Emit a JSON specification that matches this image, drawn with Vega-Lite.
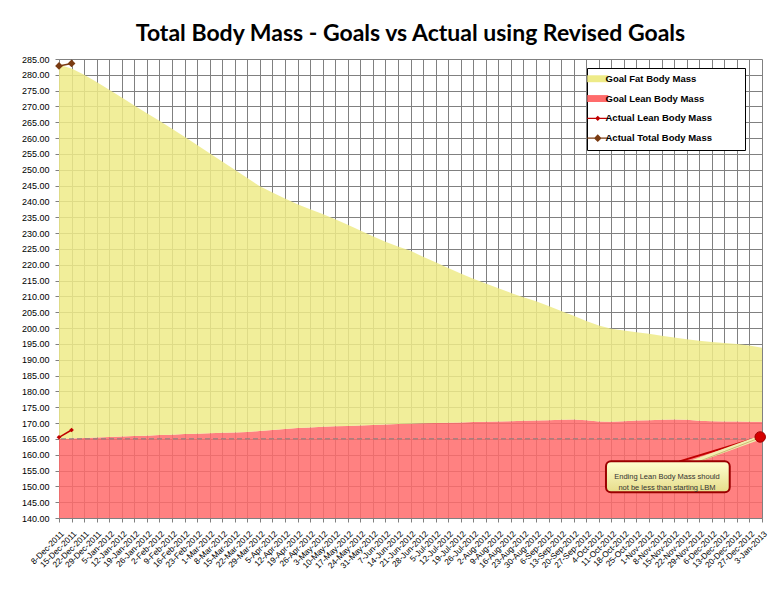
{
  "$schema": "https://vega.github.io/schema/vega-lite/v6.json",
  "width": 703,
  "height": 459,
  "autosize": "none",
  "padding": {"left": 59, "top": 59, "right": 18, "bottom": 78},
  "background": "white",
  "title": {
    "text": "Total Body Mass - Goals vs Actual using Revised Goals",
    "font": "Lato",
    "fontSize": 23,
    "fontWeight": "bold",
    "color": "black",
    "anchor": "middle",
    "offset": 9
  },
  "config": {
    "view": {"stroke": null},
    "axis": {
      "labelFont": "Liberation Sans",
      "labelFontSize": 9,
      "labelColor": "black",
      "gridColor": "#808080",
      "gridOpacity": 1,
      "gridWidth": 1,
      "domainColor": "#808080",
      "tickColor": "#808080",
      "tickSize": 4,
      "title": null
    },
    "legend": {
      "title": null,
      "orient": "none",
      "legendX": 528,
      "legendY": 9,
      "fillColor": "white",
      "strokeColor": "black",
      "padding": 6,
      "symbolSize": 441,
      "labelOffset": 3,
      "rowPadding": 8.8,
      "labelFont": "Liberation Sans",
      "labelFontSize": 9.5,
      "labelFontWeight": "bold",
      "labelColor": "black"
    }
  },
  "datasets": {
    "goals": [
      {"date": "2011-12-08", "total": 283.2, "lean": 165.0},
      {"date": "2011-12-15", "total": 282.0, "lean": 165.15},
      {"date": "2011-12-22", "total": 280.0, "lean": 165.3},
      {"date": "2011-12-29", "total": 277.7, "lean": 165.45},
      {"date": "2012-01-05", "total": 275.3, "lean": 165.6},
      {"date": "2012-01-12", "total": 272.8, "lean": 165.75},
      {"date": "2012-01-19", "total": 270.3, "lean": 165.9},
      {"date": "2012-01-26", "total": 267.9, "lean": 166.0},
      {"date": "2012-02-02", "total": 265.5, "lean": 166.2},
      {"date": "2012-02-09", "total": 263.0, "lean": 166.3},
      {"date": "2012-02-16", "total": 260.4, "lean": 166.5},
      {"date": "2012-02-23", "total": 257.8, "lean": 166.6},
      {"date": "2012-03-01", "total": 255.2, "lean": 166.8},
      {"date": "2012-03-08", "total": 252.6, "lean": 166.9},
      {"date": "2012-03-15", "total": 250.0, "lean": 167.0},
      {"date": "2012-03-22", "total": 247.4, "lean": 167.2},
      {"date": "2012-03-29", "total": 244.8, "lean": 167.5},
      {"date": "2012-04-05", "total": 242.8, "lean": 167.8},
      {"date": "2012-04-12", "total": 240.9, "lean": 168.1},
      {"date": "2012-04-19", "total": 239.1, "lean": 168.4},
      {"date": "2012-04-26", "total": 237.5, "lean": 168.6},
      {"date": "2012-05-03", "total": 236.0, "lean": 168.8},
      {"date": "2012-05-10", "total": 234.4, "lean": 168.95},
      {"date": "2012-05-17", "total": 232.6, "lean": 169.1},
      {"date": "2012-05-24", "total": 230.8, "lean": 169.25},
      {"date": "2012-05-31", "total": 229.0, "lean": 169.4},
      {"date": "2012-06-07", "total": 227.3, "lean": 169.55},
      {"date": "2012-06-14", "total": 225.8, "lean": 169.7},
      {"date": "2012-06-21", "total": 224.4, "lean": 169.8},
      {"date": "2012-06-28", "total": 222.5, "lean": 169.9},
      {"date": "2012-07-05", "total": 220.8, "lean": 170.0},
      {"date": "2012-07-12", "total": 219.0, "lean": 170.1},
      {"date": "2012-07-19", "total": 217.2, "lean": 170.2},
      {"date": "2012-07-26", "total": 215.6, "lean": 170.3},
      {"date": "2012-08-02", "total": 214.1, "lean": 170.4},
      {"date": "2012-08-09", "total": 212.6, "lean": 170.5},
      {"date": "2012-08-16", "total": 211.1, "lean": 170.6},
      {"date": "2012-08-23", "total": 209.7, "lean": 170.7},
      {"date": "2012-08-30", "total": 208.5, "lean": 170.8},
      {"date": "2012-09-06", "total": 207.0, "lean": 170.9},
      {"date": "2012-09-13", "total": 205.4, "lean": 171.0},
      {"date": "2012-09-20", "total": 203.9, "lean": 171.1},
      {"date": "2012-09-27", "total": 202.2, "lean": 170.9},
      {"date": "2012-10-04", "total": 200.8, "lean": 170.5},
      {"date": "2012-10-11", "total": 199.8, "lean": 170.4},
      {"date": "2012-10-18", "total": 199.2, "lean": 170.6},
      {"date": "2012-10-25", "total": 198.7, "lean": 170.8},
      {"date": "2012-11-01", "total": 198.2, "lean": 170.9},
      {"date": "2012-11-08", "total": 197.6, "lean": 171.0},
      {"date": "2012-11-15", "total": 197.0, "lean": 171.1},
      {"date": "2012-11-22", "total": 196.5, "lean": 171.0},
      {"date": "2012-11-29", "total": 196.0, "lean": 170.7},
      {"date": "2012-12-06", "total": 195.6, "lean": 170.6},
      {"date": "2012-12-13", "total": 195.3, "lean": 170.5},
      {"date": "2012-12-20", "total": 195.0, "lean": 170.5},
      {"date": "2012-12-27", "total": 194.5, "lean": 170.4},
      {"date": "2013-01-03", "total": 193.8, "lean": 170.4}
    ],
    "actual": [
      {"date": "2011-12-08", "series": "Actual Lean Body Mass", "value": 165.5},
      {"date": "2011-12-15", "series": "Actual Lean Body Mass", "value": 167.8},
      {"date": "2011-12-08", "series": "Actual Total Body Mass", "value": 282.8},
      {"date": "2011-12-15", "series": "Actual Total Body Mass", "value": 283.6}
    ],
    "ending": [
      {"date": "2013-01-02", "value": 165.6}
    ]
  },
  "layer": [
    {
      "data": {"name": "goals"},
      "mark": {"type": "area", "opacity": 0.85},
      "encoding": {
        "x": {
          "field": "date",
          "type": "temporal",
          "scale": {
            "type": "utc",
            "domain": [
              {"year": 2011, "month": 12, "date": 8, "utc": true},
              {"year": 2013, "month": 1, "date": 3, "utc": true}
            ]
          },
          "axis": {
            "format": "%-d-%b-%Y",
            "labelAngle": -45,
            "labelFontSize": 8.3,
            "labelOverlap": false,
            "labelPadding": 7,
            "grid": true,
            "tickCount": 200,
            "values": [
              {"year": 2011, "month": 12, "date": 8, "utc": true},
              {"year": 2011, "month": 12, "date": 15, "utc": true},
              {"year": 2011, "month": 12, "date": 22, "utc": true},
              {"year": 2011, "month": 12, "date": 29, "utc": true},
              {"year": 2012, "month": 1, "date": 5, "utc": true},
              {"year": 2012, "month": 1, "date": 12, "utc": true},
              {"year": 2012, "month": 1, "date": 19, "utc": true},
              {"year": 2012, "month": 1, "date": 26, "utc": true},
              {"year": 2012, "month": 2, "date": 2, "utc": true},
              {"year": 2012, "month": 2, "date": 9, "utc": true},
              {"year": 2012, "month": 2, "date": 16, "utc": true},
              {"year": 2012, "month": 2, "date": 23, "utc": true},
              {"year": 2012, "month": 3, "date": 1, "utc": true},
              {"year": 2012, "month": 3, "date": 8, "utc": true},
              {"year": 2012, "month": 3, "date": 15, "utc": true},
              {"year": 2012, "month": 3, "date": 22, "utc": true},
              {"year": 2012, "month": 3, "date": 29, "utc": true},
              {"year": 2012, "month": 4, "date": 5, "utc": true},
              {"year": 2012, "month": 4, "date": 12, "utc": true},
              {"year": 2012, "month": 4, "date": 19, "utc": true},
              {"year": 2012, "month": 4, "date": 26, "utc": true},
              {"year": 2012, "month": 5, "date": 3, "utc": true},
              {"year": 2012, "month": 5, "date": 10, "utc": true},
              {"year": 2012, "month": 5, "date": 17, "utc": true},
              {"year": 2012, "month": 5, "date": 24, "utc": true},
              {"year": 2012, "month": 5, "date": 31, "utc": true},
              {"year": 2012, "month": 6, "date": 7, "utc": true},
              {"year": 2012, "month": 6, "date": 14, "utc": true},
              {"year": 2012, "month": 6, "date": 21, "utc": true},
              {"year": 2012, "month": 6, "date": 28, "utc": true},
              {"year": 2012, "month": 7, "date": 5, "utc": true},
              {"year": 2012, "month": 7, "date": 12, "utc": true},
              {"year": 2012, "month": 7, "date": 19, "utc": true},
              {"year": 2012, "month": 7, "date": 26, "utc": true},
              {"year": 2012, "month": 8, "date": 2, "utc": true},
              {"year": 2012, "month": 8, "date": 9, "utc": true},
              {"year": 2012, "month": 8, "date": 16, "utc": true},
              {"year": 2012, "month": 8, "date": 23, "utc": true},
              {"year": 2012, "month": 8, "date": 30, "utc": true},
              {"year": 2012, "month": 9, "date": 6, "utc": true},
              {"year": 2012, "month": 9, "date": 13, "utc": true},
              {"year": 2012, "month": 9, "date": 20, "utc": true},
              {"year": 2012, "month": 9, "date": 27, "utc": true},
              {"year": 2012, "month": 10, "date": 4, "utc": true},
              {"year": 2012, "month": 10, "date": 11, "utc": true},
              {"year": 2012, "month": 10, "date": 18, "utc": true},
              {"year": 2012, "month": 10, "date": 25, "utc": true},
              {"year": 2012, "month": 11, "date": 1, "utc": true},
              {"year": 2012, "month": 11, "date": 8, "utc": true},
              {"year": 2012, "month": 11, "date": 15, "utc": true},
              {"year": 2012, "month": 11, "date": 22, "utc": true},
              {"year": 2012, "month": 11, "date": 29, "utc": true},
              {"year": 2012, "month": 12, "date": 6, "utc": true},
              {"year": 2012, "month": 12, "date": 13, "utc": true},
              {"year": 2012, "month": 12, "date": 20, "utc": true},
              {"year": 2012, "month": 12, "date": 27, "utc": true},
              {"year": 2013, "month": 1, "date": 3, "utc": true}
            ]
          }
        },
        "y": {
          "field": "lean",
          "type": "quantitative",
          "scale": {"domain": [140, 285], "nice": false, "zero": false},
          "axis": {
            "format": ".2f",
            "grid": true,
            "labelPadding": 6,
            "tickCount": 200,
            "values": [140, 145, 150, 155, 160, 165, 170, 175, 180, 185, 190, 195, 200, 205, 210, 215, 220, 225, 230, 235, 240, 245, 250, 255, 260, 265, 270, 275, 280, 285]
          }
        },
        "y2": {"datum": 140},
        "color": {
          "datum": "Goal Lean Body Mass",
          "type": "nominal",
          "scale": {
            "domain": ["Goal Fat Body Mass", "Goal Lean Body Mass", "Actual Lean Body Mass", "Actual Total Body Mass"],
            "range": ["#EEEB88", "#FF6B6B", "#C00000", "#7A3B12"]
          },
          "legend": {
            "title": null,
            "encode": {
              "symbols": {
                "update": {
                  "shape": {"signal": "datum.value == 'Goal Fat Body Mass' || datum.value == 'Goal Lean Body Mass' ? 'M13.2,0M-1,-0.33H1V0.33H-1Z' : (datum.value == 'Actual Lean Body Mass' ? 'M13.2,0M-1,0H1M-0.17,0L0,-0.17L0.17,0L0,0.17Z' : 'M13.2,0M-1,0H1M-0.28,0L0,-0.28L0.28,0L0,0.28Z')"},
                  "fill": {"scale": "color", "field": "value"},
                  "stroke": {"scale": "color", "field": "value"},
                  "strokeWidth": {"signal": "datum.value == 'Goal Fat Body Mass' || datum.value == 'Goal Lean Body Mass' ? 0 : 1.3"},
                  "opacity": {"value": 1}
                }
              }
            }
          }
        }
      }
    },
    {
      "data": {"name": "goals"},
      "mark": {"type": "area", "opacity": 0.85},
      "encoding": {
        "x": {"field": "date", "type": "temporal"},
        "y": {"field": "total", "type": "quantitative"},
        "y2": {"field": "lean"},
        "color": {
          "datum": "Goal Fat Body Mass",
          "type": "nominal",
          "legend": {
            "title": null,
            "encode": {
              "symbols": {
                "update": {
                  "shape": {"signal": "datum.value == 'Goal Fat Body Mass' || datum.value == 'Goal Lean Body Mass' ? 'M13.2,0M-1,-0.33H1V0.33H-1Z' : (datum.value == 'Actual Lean Body Mass' ? 'M13.2,0M-1,0H1M-0.17,0L0,-0.17L0.17,0L0,0.17Z' : 'M13.2,0M-1,0H1M-0.28,0L0,-0.28L0.28,0L0,0.28Z')"},
                  "fill": {"scale": "color", "field": "value"},
                  "stroke": {"scale": "color", "field": "value"},
                  "strokeWidth": {"signal": "datum.value == 'Goal Fat Body Mass' || datum.value == 'Goal Lean Body Mass' ? 0 : 1.3"},
                  "opacity": {"value": 1}
                }
              }
            }
          }
        }
      }
    },
    {
      "data": {"values": [{}]},
      "mark": {"type": "rule", "color": "#7f7f7f", "strokeDash": [5, 3], "strokeWidth": 1},
      "encoding": {"y": {"datum": 165}}
    },
    {
      "data": {"name": "actual"},
      "mark": {"type": "line", "strokeWidth": 1.5},
      "encoding": {
        "x": {"field": "date", "type": "temporal"},
        "y": {"field": "value", "type": "quantitative"},
        "color": {
          "field": "series",
          "type": "nominal",
          "legend": {
            "title": null,
            "encode": {
              "symbols": {
                "update": {
                  "shape": {"signal": "datum.value == 'Goal Fat Body Mass' || datum.value == 'Goal Lean Body Mass' ? 'M13.2,0M-1,-0.33H1V0.33H-1Z' : (datum.value == 'Actual Lean Body Mass' ? 'M13.2,0M-1,0H1M-0.17,0L0,-0.17L0.17,0L0,0.17Z' : 'M13.2,0M-1,0H1M-0.28,0L0,-0.28L0.28,0L0,0.28Z')"},
                  "fill": {"scale": "color", "field": "value"},
                  "stroke": {"scale": "color", "field": "value"},
                  "strokeWidth": {"signal": "datum.value == 'Goal Fat Body Mass' || datum.value == 'Goal Lean Body Mass' ? 0 : 1.3"},
                  "opacity": {"value": 1}
                }
              }
            }
          }
        }
      }
    },
    {
      "data": {"name": "actual"},
      "mark": {"type": "point", "shape": "diamond", "filled": true, "opacity": 1},
      "encoding": {
        "x": {"field": "date", "type": "temporal"},
        "y": {"field": "value", "type": "quantitative"},
        "color": {
          "field": "series",
          "type": "nominal",
          "legend": {
            "title": null,
            "encode": {
              "symbols": {
                "update": {
                  "shape": {"signal": "datum.value == 'Goal Fat Body Mass' || datum.value == 'Goal Lean Body Mass' ? 'M13.2,0M-1,-0.33H1V0.33H-1Z' : (datum.value == 'Actual Lean Body Mass' ? 'M13.2,0M-1,0H1M-0.17,0L0,-0.17L0.17,0L0,0.17Z' : 'M13.2,0M-1,0H1M-0.28,0L0,-0.28L0.28,0L0,0.28Z')"},
                  "fill": {"scale": "color", "field": "value"},
                  "stroke": {"scale": "color", "field": "value"},
                  "strokeWidth": {"signal": "datum.value == 'Goal Fat Body Mass' || datum.value == 'Goal Lean Body Mass' ? 0 : 1.3"},
                  "opacity": {"value": 1}
                }
              }
            }
          }
        },
        "size": {
          "field": "series",
          "type": "ordinal",
          "scale": {"domain": ["Actual Lean Body Mass", "Actual Total Body Mass"], "range": [22, 60]},
          "legend": null
        }
      }
    },
    {
      "data": {"values": [{}]},
      "mark": {"type": "rule", "color": "#C00000", "strokeWidth": 2},
      "encoding": {
        "x": {"datum": {"year": 2012, "month": 11, "date": 18, "utc": true}, "type": "temporal"},
        "y": {"datum": 157.9},
        "x2": {"datum": {"year": 2013, "month": 1, "date": 2, "utc": true}},
        "y2": {"datum": 165.6}
      }
    },
    {
      "data": {"values": [{}]},
      "mark": {"type": "rule", "color": "#F2ECB0", "strokeWidth": 4},
      "encoding": {
        "x": {"datum": {"year": 2012, "month": 11, "date": 24, "utc": true}, "type": "temporal"},
        "y": {"datum": 157.4},
        "x2": {"datum": {"year": 2013, "month": 1, "date": 1, "utc": true}},
        "y2": {"datum": 165.2}
      }
    },
    {
      "data": {"values": [{}]},
      "mark": {"type": "rule", "color": "#C9BA72", "strokeWidth": 1},
      "encoding": {
        "x": {"datum": {"year": 2012, "month": 11, "date": 29, "utc": true}, "type": "temporal"},
        "y": {"datum": 157.9},
        "x2": {"datum": {"year": 2013, "month": 1, "date": 2, "utc": true}},
        "y2": {"datum": 165.4}
      }
    },
    {
      "data": {"values": [{}]},
      "mark": {
        "type": "rect",
        "cornerRadius": 5,
        "stroke": "#9B0000",
        "strokeWidth": 2,
        "fill": {
          "gradient": "linear",
          "x1": 0, "y1": 0, "x2": 0, "y2": 1,
          "stops": [
            {"offset": 0, "color": "#FFFFD0"},
            {"offset": 1, "color": "#E6DC8A"}
          ]
        }
      },
      "encoding": {
        "x": {"datum": {"year": 2012, "month": 10, "date": 8, "utc": true}, "type": "temporal"},
        "x2": {"datum": {"year": 2012, "month": 12, "date": 16, "utc": true}},
        "y": {"datum": 157.9},
        "y2": {"datum": 148.1}
      }
    },
    {
      "data": {"values": [{}]},
      "mark": {
        "type": "text",
        "text": ["Ending Lean  Body  Mass should", "not be less than starting LBM"],
        "font": "Liberation Sans",
        "fontSize": 7.5,
        "lineHeight": 10.5,
        "color": "#333333",
        "align": "center",
        "baseline": "middle"
      },
      "encoding": {
        "x": {"datum": {"year": 2012, "month": 11, "date": 11, "utc": true}, "type": "temporal"},
        "y": {"datum": 152.8}
      }
    },
    {
      "data": {"name": "ending"},
      "mark": {"type": "point", "shape": "circle", "filled": true, "size": 110, "color": "#D40000", "stroke": "#A00000", "strokeWidth": 1, "opacity": 1},
      "encoding": {
        "x": {"field": "date", "type": "temporal"},
        "y": {"field": "value", "type": "quantitative"}
      }
    }
  ]
}
